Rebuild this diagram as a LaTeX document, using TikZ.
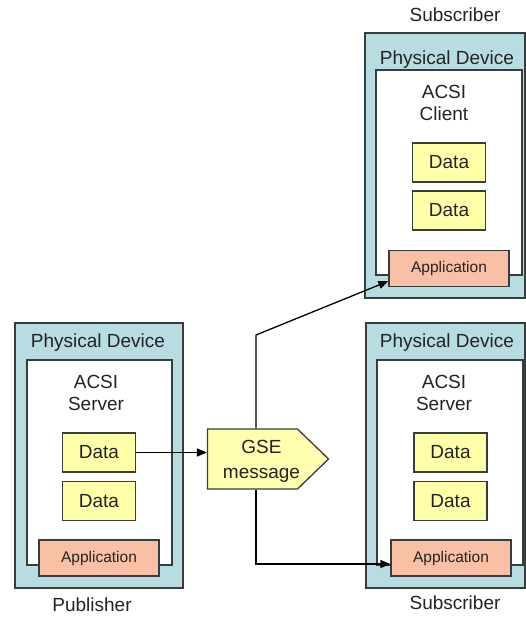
\documentclass[tikz,border=0pt]{standalone}
\usepackage{fontspec}
\setmainfont{Liberation Sans}
\usetikzlibrary{shapes.symbols,arrows.meta,calc}
\definecolor{devfill}{RGB}{183,221,227}
\definecolor{datafill}{RGB}{255,255,170}
\definecolor{appfill}{RGB}{250,192,165}
\definecolor{gsefill}{RGB}{255,255,175}
\definecolor{bc}{RGB}{55,60,60}
\definecolor{tc}{RGB}{35,35,35}
\begin{document}
\begin{tikzpicture}[x=1pt,y=-1pt,
  outerbox/.style={draw=bc, fill=devfill, line width=1.3pt, inner sep=0pt, minimum width=#1, minimum height=265pt},
  innerbox/.style={draw=bc, fill=white, line width=1.3pt, inner sep=0pt, minimum width=#1, minimum height=205pt},
  databox/.style={draw=bc, fill=datafill, line width=1.3pt, inner sep=0pt, minimum width=73pt, minimum height=39pt, text=tc, font=\fontsize{19}{22}\selectfont},
  appbox/.style={draw=bc, fill=appfill, line width=1.3pt, inner sep=0pt, minimum width=120pt, minimum height=36pt, text=tc, font=\fontsize{15.5}{18}\selectfont},
  lbl/.style={text=tc, inner sep=0pt, align=center, font=\fontsize{19}{22}\selectfont},
  gseshape/.style={draw=bc, fill=gsefill, line width=1.3pt, shape=signal, signal to=east, signal pointer angle=88, inner sep=0pt, minimum width=121pt, minimum height=60pt},
  conn/.style={draw=black, line width=1.3pt},
  arr/.style={conn, -{Triangle[length=10pt,width=8pt]}}
]
\useasboundingbox (0,0) rectangle (526,618);

% Publisher device
\node[outerbox=168pt] (pubOuter) at (99,455.5) {};
\node[innerbox=145pt] (pubInner) at (99.5,462.5) {};
\node[lbl] (pubTitle) at (98,343) {Physical Device};
\node[lbl] (pubACSI) at (96,393) {ACSI\\Server};
\node[databox] (pubD1) at (99,452.5) {Data};
\node[databox] (pubD2) at (99,501) {Data};
\node[appbox] (pubApp) at (99,558) {Application};
\node[lbl] (pubLbl) at (92,605) {Publisher};

% Top subscriber device
\node[outerbox=160pt] (trOuter) at (445,165.5) {};
\node[innerbox=146pt] (trInner) at (449,172.5) {};
\node[lbl] (trTitle) at (447,60) {Physical Device};
\node[lbl] (trACSI) at (444,102.5) {ACSI\\Client};
\node[databox] (trD1) at (449,162.5) {Data};
\node[databox] (trD2) at (449,210.5) {Data};
\node[appbox] (trApp) at (449,268.5) {Application};
\node[lbl] (trLbl) at (455,15) {Subscriber};

% Bottom subscriber device
\node[outerbox=159pt] (brOuter) at (445.5,455.5) {};
\node[innerbox=146pt] (brInner) at (450,462.5) {};
\node[lbl] (brTitle) at (447,343) {Physical Device};
\node[lbl] (brACSI) at (444,393) {ACSI\\Server};
\node[databox] (brD1) at (450.5,452.5) {Data};
\node[databox] (brD2) at (450.5,501) {Data};
\node[appbox] (brApp) at (451,558) {Application};
\node[lbl] (brLbl) at (455,603) {Subscriber};

% GSE message
\node[gseshape] (gse) at (252.5,459) {};
\node[lbl, font=\fontsize{19}{25}\selectfont] (gseText) at (261.5,461) {GSE\\message};

\coordinate (bend1) at (256,335);
\coordinate (bend2) at (256,564);

% connectors
\draw[arr] (pubD1.east) -- (pubD1.east -| gse.west);
\draw[arr] (bend1 |- gse.north) -- (bend1) -- ($(trApp.south west)+(0,-6)$);
\draw[arr] (bend2 |- gse.south) -- (bend2) -- (bend2 -| brApp.west);
\end{tikzpicture}
\end{document}
